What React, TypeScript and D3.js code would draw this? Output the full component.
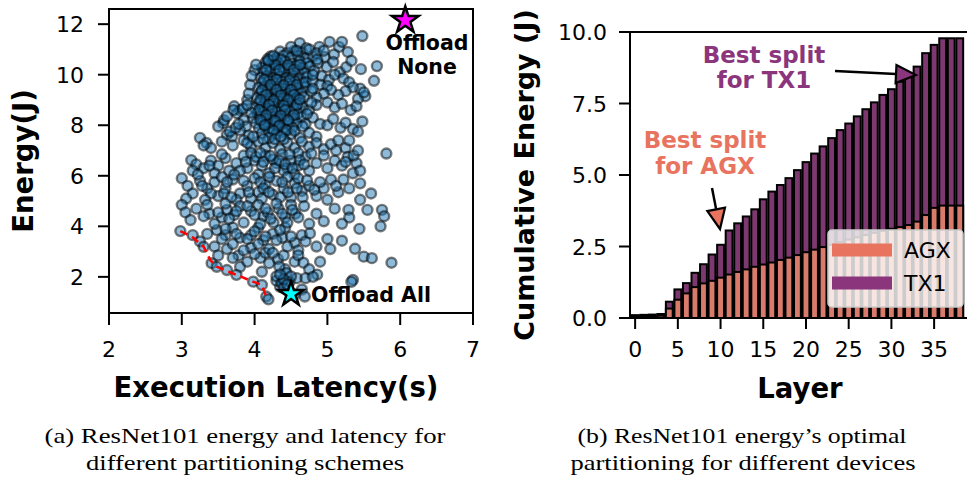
import * as d3 from "d3";

const W = 967;
const H = 479;

// ---- panel (a): latency vs energy scatter ----
const latencyTicks = [2, 3, 4, 5, 6, 7];
const energyTicks = [2, 4, 6, 8, 10, 12];

// dense core of partitions
const scatterCore: [number, number][] = [
  [4.35, 10.92], [4.45, 10.86], [4.55, 10.95], [4.65, 10.88],
  [4.22, 10.72], [4.3, 10.66], [4.4, 10.75], [4.5, 10.68], [4.6, 10.74], [4.7, 10.65], [4.8, 10.72],
  [4.15, 10.48], [4.25, 10.55], [4.33, 10.45], [4.42, 10.52], [4.52, 10.44], [4.62, 10.53], [4.72, 10.46],
  [4.1, 10.28], [4.2, 10.34], [4.28, 10.25], [4.38, 10.32], [4.47, 10.26], [4.57, 10.35], [4.66, 10.27], [4.76, 10.33],
  [4.12, 10.08], [4.22, 10.12], [4.31, 10.04], [4.4, 10.1], [4.5, 10.05], [4.6, 10.13], [4.69, 10.06],
  [4.08, 9.88], [4.17, 9.93], [4.26, 9.86], [4.35, 9.92], [4.44, 9.87], [4.53, 9.94], [4.62, 9.85], [4.72, 9.9],
  [4.1, 9.68], [4.2, 9.74], [4.29, 9.66], [4.38, 9.72], [4.47, 9.65], [4.56, 9.73], [4.66, 9.67],
  [4.05, 9.48], [4.14, 9.53], [4.23, 9.46], [4.32, 9.52], [4.41, 9.45], [4.5, 9.54], [4.6, 9.47], [4.7, 9.51],
  [4.08, 9.28], [4.18, 9.33], [4.27, 9.26], [4.36, 9.32], [4.45, 9.25], [4.55, 9.34], [4.64, 9.27],
  [4.03, 9.08], [4.12, 9.13], [4.22, 9.06], [4.31, 9.12], [4.4, 9.05], [4.49, 9.14], [4.58, 9.07], [4.68, 9.11],
  [4.06, 8.88], [4.15, 8.93], [4.25, 8.86], [4.34, 8.92], [4.43, 8.85], [4.52, 8.94], [4.62, 8.87],
  [4.0, 8.68], [4.1, 8.73], [4.19, 8.66], [4.28, 8.72], [4.37, 8.65], [4.46, 8.74], [4.56, 8.67], [4.66, 8.71],
  [4.04, 8.48], [4.13, 8.53], [4.22, 8.46], [4.32, 8.52], [4.41, 8.45], [4.5, 8.54], [4.6, 8.47],
  [3.98, 8.28], [4.08, 8.33], [4.17, 8.26], [4.26, 8.32], [4.35, 8.25], [4.44, 8.34], [4.54, 8.27], [4.64, 8.31],
  [4.02, 8.08], [4.11, 8.13], [4.2, 8.06], [4.3, 8.12], [4.39, 8.05], [4.48, 8.14], [4.58, 8.07],
  [4.06, 7.88], [4.15, 7.93], [4.24, 7.86], [4.33, 7.92], [4.42, 7.85], [4.52, 7.9],
  [4.1, 7.68], [4.2, 7.73], [4.3, 7.66], [4.4, 7.72], [4.5, 7.65],
];

// second layer over the darkest part of the core
const scatterCoreDense: [number, number][] = [
  [4.18, 10.62], [4.36, 10.6], [4.46, 10.38], [4.28, 10.4], [4.16, 10.2], [4.34, 10.18], [4.54, 10.2],
  [4.13, 9.8], [4.3, 9.8], [4.48, 9.78], [4.22, 9.6], [4.4, 9.58], [4.58, 9.6], [4.1, 9.38], [4.3, 9.4],
  [4.5, 9.4], [4.16, 9.2], [4.36, 9.18], [4.54, 9.2], [4.08, 9.0], [4.26, 8.98], [4.46, 9.0],
  [4.2, 8.8], [4.4, 8.78], [4.58, 8.8], [4.06, 8.6], [4.24, 8.58], [4.42, 8.6], [4.16, 8.4], [4.36, 8.38],
  [4.54, 8.4], [4.08, 8.2], [4.28, 8.18], [4.46, 8.2], [4.14, 8.0], [4.34, 7.98], [4.26, 7.78],
  [4.44, 7.8], [4.62, 9.02], [4.62, 10.4], [4.7, 9.7],
];

const scatterUpper: [number, number][] = [
  [4.62, 11.25], [4.71, 11.05], [4.89, 11.1], [5.03, 11.3], [5.16, 11.1], [5.28, 10.9], [5.09, 10.8],
  [4.96, 10.7], [5.48, 11.53], [4.19, 10.56], [4.26, 10.75], [4.0, 10.18], [5.46, 10.22], [5.68, 10.34],
  [4.87, 10.45], [4.99, 10.3], [5.08, 10.5], [5.17, 10.1], [5.26, 10.3], [5.33, 10.55], [4.82, 10.15],
  [4.92, 9.95], [5.02, 9.8], [5.1, 10.0], [5.22, 9.85], [5.3, 9.7], [5.64, 9.76], [4.8, 9.75],
  [4.9, 9.6], [5.0, 9.55], [3.94, 9.6], [4.75, 11.0], [4.85, 10.85], [5.2, 11.3], [4.5, 11.1],
];

const scatterMid: [number, number][] = [
  [5.45, 9.45], [5.52, 9.15], [5.42, 9.05], [5.35, 9.5], [5.25, 9.35], [5.15, 9.2], [5.05, 9.4],
  [4.95, 9.25], [4.85, 9.1], [4.78, 9.35], [4.75, 8.6], [4.85, 8.8], [5.0, 8.9], [5.1, 8.7], [5.2, 8.85],
  [5.32, 8.6], [5.4, 8.75], [3.9, 9.0], [3.8, 8.6], [3.95, 8.5], [3.72, 8.75], [3.76, 8.47], [3.71, 8.6],
  [3.57, 8.08], [3.5, 7.95], [3.62, 7.62], [3.69, 7.55], [3.25, 7.5], [3.34, 7.3], [3.85, 8.2],
  [3.88, 7.95], [3.92, 7.6], [3.8, 7.8], [4.7, 8.05], [4.8, 8.3], [4.9, 8.05], [4.75, 7.7], [4.85, 7.55],
  [4.62, 7.5], [5.0, 8.0], [5.08, 8.25], [5.18, 7.9], [5.25, 8.1], [5.35, 7.85], [5.48, 8.15],
  [5.42, 7.75], [5.5, 9.3],
  [3.4, 7.1], [3.55, 7.35], [3.7, 7.2], [3.85, 7.4], [3.95, 7.15], [4.05, 7.35], [4.15, 7.1], [4.25, 7.3],
  [4.35, 7.05], [4.45, 7.3], [4.55, 7.1], [4.65, 7.35], [4.75, 7.15], [4.85, 7.3], [4.95, 7.05],
  [5.05, 7.25], [5.15, 7.4], [5.25, 7.1], [5.3, 7.4], [4.2, 7.5], [4.4, 7.45], [3.3, 7.2],
  [3.13, 6.62], [3.2, 6.45], [3.15, 6.2], [3.3, 6.3], [3.4, 6.6], [3.5, 6.4], [3.45, 6.1], [3.6, 6.7],
  [3.65, 6.2], [3.75, 6.5], [3.85, 6.8], [3.9, 6.3], [4.0, 6.6], [4.1, 6.4], [4.15, 6.8], [4.2, 6.1],
  [4.3, 6.5], [4.38, 6.85], [4.45, 6.3], [4.5, 6.6], [4.6, 6.4], [4.7, 6.75], [4.75, 6.2], [4.85, 6.5],
  [4.95, 6.8], [5.0, 6.3], [5.1, 6.6], [5.2, 6.4], [5.28, 6.75], [5.4, 6.5], [5.81, 6.88], [5.35, 6.1],
  [4.55, 6.05], [4.05, 6.05], [3.55, 6.85], [4.25, 6.65], [4.4, 6.2], [3.95, 6.9], [4.6, 6.9],
  [5.12, 7.0], [5.45, 6.2],
  [3.0, 5.9], [3.08, 5.6], [3.15, 5.3], [3.25, 5.8], [3.35, 5.5], [3.45, 5.75], [3.5, 5.2], [3.6, 5.5],
  [3.7, 5.85], [3.8, 5.3], [3.9, 5.6], [4.0, 5.9], [4.05, 5.35], [4.15, 5.65], [4.25, 5.25], [4.3, 5.8],
  [4.4, 5.5], [4.5, 5.15], [4.55, 5.7], [4.65, 5.4], [4.75, 5.6], [4.85, 5.2], [4.95, 5.5], [5.05, 5.85],
  [5.15, 5.35], [5.3, 5.5], [5.45, 5.7], [5.6, 5.3], [5.45, 5.05], [4.45, 5.95], [3.95, 5.1], [5.0, 5.05],
  [4.2, 5.95], [4.35, 5.15], [3.75, 5.05], [4.6, 5.9], [4.1, 5.1], [3.55, 5.95],
];

// darker clumps seen in the middle band and along the left edge
const scatterClumps: [number, number][] = [
  [3.58, 8.2], [3.62, 8.35], [3.66, 7.75], [3.74, 7.9], [3.78, 8.05], [3.84, 8.65], [3.9, 8.8],
  [3.92, 9.25], [3.96, 9.95], [4.02, 10.4], [3.9, 7.3], [3.98, 7.55], [4.12, 7.45], [4.28, 7.45],
  [4.36, 7.55], [4.55, 7.78], [4.66, 7.95], [4.72, 8.45], [4.78, 8.9], [4.8, 9.45], [4.8, 10.0],
  [4.86, 10.6], [4.95, 10.95], [4.58, 10.95],
  [4.02, 6.75], [4.08, 6.9], [4.12, 6.55], [4.22, 6.78], [4.28, 6.3], [4.34, 6.6], [4.42, 6.45],
  [4.48, 6.85], [4.52, 6.3], [4.62, 6.62], [4.68, 6.45], [4.78, 6.88], [3.88, 6.55], [3.8, 6.2],
  [3.72, 6.05], [3.62, 5.75], [3.58, 5.3], [3.68, 5.15], [3.85, 5.8], [3.92, 5.35], [4.08, 5.75],
  [4.12, 5.5], [4.2, 5.35], [4.38, 5.75], [4.46, 5.35], [4.58, 5.5], [4.66, 5.15], [4.72, 5.82],
  [4.82, 5.45], [4.9, 5.75], [5.12, 5.6], [5.22, 5.85], [5.25, 6.55], [5.36, 6.8], [5.42, 7.0],
  [3.38, 6.4], [3.22, 6.05], [3.28, 5.6], [3.4, 5.3], [3.32, 5.05],
  [3.38, 4.5], [3.55, 4.35], [3.62, 4.65], [3.72, 4.45], [3.8, 4.8], [3.95, 4.6], [4.05, 4.85],
  [4.12, 4.4], [4.18, 4.55], [4.26, 4.15], [4.33, 4.7], [4.42, 4.35], [4.5, 4.85], [4.56, 4.5],
  [3.48, 3.85], [3.6, 3.65], [3.7, 3.95], [3.8, 3.55], [3.95, 3.65], [4.05, 3.95], [4.12, 3.45],
  [4.25, 3.7], [4.38, 3.55], [4.42, 3.95], [4.55, 3.35], [4.65, 3.65], [3.62, 3.1], [3.78, 2.85],
  [3.95, 3.15], [4.08, 2.75], [4.15, 2.95], [4.32, 2.7], [4.4, 2.85], [4.35, 1.6], [4.3, 1.85],
  [4.42, 2.3], [4.48, 1.8], [4.58, 1.95],
];

const scatterLow: [number, number][] = [
  [3.06, 5.1], [3.0, 4.85], [3.05, 4.55], [3.12, 4.25], [3.2, 4.7], [3.3, 4.4], [3.35, 4.85], [3.45, 4.1],
  [3.5, 4.55], [3.6, 4.9], [3.65, 4.3], [3.75, 4.6], [3.85, 4.15], [3.9, 4.8], [4.0, 4.45], [4.08, 4.1],
  [4.15, 4.7], [4.22, 4.3], [4.3, 4.9], [4.38, 4.5], [4.45, 4.15], [4.52, 4.65], [4.6, 4.35], [4.68, 4.8],
  [4.75, 4.1], [4.85, 4.5], [4.95, 4.2], [5.29, 4.65], [5.3, 4.35], [5.55, 4.65], [5.75, 4.65],
  [5.78, 4.4], [5.73, 4.0], [5.1, 4.7], [5.2, 4.1], [5.44, 3.9],
  [2.98, 3.81], [3.15, 3.65], [3.25, 3.4], [3.35, 3.7], [3.45, 3.2], [3.55, 3.5], [3.6, 3.9], [3.7, 3.3],
  [3.75, 3.7], [3.85, 3.05], [3.9, 3.5], [4.0, 3.8], [4.05, 3.3], [4.15, 3.6], [4.2, 3.1], [4.3, 3.45],
  [4.35, 3.85], [4.45, 3.2], [4.5, 3.6], [4.6, 3.05], [4.7, 3.4], [4.76, 3.72], [4.85, 3.2], [5.0, 3.5],
  [5.04, 3.1], [5.2, 3.43], [5.38, 3.11], [3.3, 3.19],
  [3.41, 2.54], [3.5, 2.85], [3.62, 2.27], [3.7, 2.75], [3.8, 2.4], [3.9, 2.6], [4.0, 2.9], [4.1, 2.2],
  [4.2, 2.54], [4.25, 2.95], [4.34, 2.41], [4.44, 2.15], [4.3, 2.02], [4.5, 2.02], [4.55, 2.6],
  [4.6, 2.85], [4.67, 2.56], [4.75, 2.3], [4.86, 2.09], [4.7, 1.95], [4.9, 2.6], [5.5, 2.8], [5.61, 2.74],
  [5.88, 2.56], [3.48, 2.4], [3.75, 2.08], [3.98, 1.81], [4.1, 1.68], [4.16, 1.22], [4.19, 1.11],
  [4.37, 1.76], [4.4, 1.55], [4.55, 1.3], [4.65, 1.5], [4.69, 1.22], [5.35, 1.88], [5.33, 1.8],
  [4.8, 2.0], [4.4, 1.9], [4.35, 2.1], [4.45, 1.7],
];

const paretoFront: [number, number][] = [
  [2.98, 3.81], [3.14, 3.59], [3.3, 3.19], [3.39, 2.67], [3.48, 2.4], [3.75, 2.08], [3.98, 1.81],
  [4.1, 1.68], [4.16, 1.22],
];
const offloadNone: [number, number] = [6.07, 12.15];
const offloadAll: [number, number] = [4.5, 1.32];

// ---- panel (b): cumulative energy per layer ----
const tx1Cumulative = [
  0.1, 0.11, 0.12, 0.14, 0.57, 1.0, 1.22, 1.58, 1.88, 2.22, 2.56, 3.06, 3.31, 3.55, 3.8, 4.15, 4.42, 4.65,
  4.89, 5.17, 5.45, 5.75, 6.0, 6.29, 6.57, 6.8, 7.05, 7.3, 7.54, 7.8, 8.0, 8.26, 8.5, 8.79, 9.26, 9.55,
  9.78, 9.78, 9.78,
];
const agxCumulative = [
  0.05, 0.06, 0.07, 0.08, 0.33, 0.64, 0.86, 1.08, 1.21, 1.3, 1.41, 1.52, 1.61, 1.7, 1.79, 1.87, 1.94, 2.03,
  2.11, 2.2, 2.3, 2.39, 2.48, 2.56, 2.65, 2.74, 2.82, 2.9, 2.98, 3.05, 3.12, 3.18, 3.25, 3.37, 3.6, 3.85,
  3.93, 3.93, 3.93,
];
const layerTicks = [0, 5, 10, 15, 20, 25, 30, 35];
const cumTicks = [0, 2.5, 5, 7.5, 10];

const AGX = "#d97b6b";
const TX1 = "#7d386f";
const AGX_TEXT = "#e8735f";
const TX1_TEXT = "#8b357d";
const FONT = "DejaVu Sans";

function Arrow({ from, to, fill }: { from: [number, number]; to: [number, number]; fill: string }) {
  const dx = to[0] - from[0];
  const dy = to[1] - from[1];
  const len = Math.hypot(dx, dy);
  const ux = dx / len;
  const uy = dy / len;
  const hl = 20;
  const hw = 9;
  const bx = to[0] - ux * hl;
  const by = to[1] - uy * hl;
  const pts = [
    [to[0], to[1]],
    [bx - uy * hw, by + ux * hw],
    [bx + uy * hw, by - ux * hw],
  ];
  return (
    <g>
      <line x1={from[0]} y1={from[1]} x2={bx} y2={by} stroke="black" strokeWidth={2.5} />
      <polygon points={pts.map((p) => p.join(",")).join(" ")} fill={fill} stroke="black" strokeWidth={2.2} strokeLinejoin="miter" />
    </g>
  );
}

function ScatterPanel() {
  const x = d3.scaleLinear().domain([2, 7]).range([109, 473]);
  const y = d3.scaleLinear().domain([0.57, 12.6]).range([313, 9]);
  const all = [...scatterCore, ...scatterCoreDense, ...scatterUpper, ...scatterMid, ...scatterClumps, ...scatterLow];
  const line = d3.line<[number, number]>().x((d) => x(d[0])).y((d) => y(d[1]));
  const star = (r: number) => d3.symbol().type(d3.symbolStar).size((r * r) / 0.8908130915292852)() as string;
  return (
    <g fontFamily={FONT}>
      {all.map((d, i) => (
        <circle key={i} cx={x(d[0])} cy={y(d[1])} r={5} fill="#1f77b4" fillOpacity={0.5} stroke="black" strokeOpacity={0.5} strokeWidth={2.4} />
      ))}
      <path d={line(paretoFront) ?? ""} fill="none" stroke="red" strokeWidth={2.5} strokeDasharray="8,5" />
      <path d={star(14)} transform={`translate(${x(offloadNone[0])},${y(offloadNone[1])})`} fill="#ff00ff" stroke="black" strokeWidth={2.5} />
      <path d={star(13)} transform={`translate(${x(offloadAll[0])},${y(offloadAll[1])})`} fill="#00ffff" stroke="black" strokeWidth={2.5} />
      <text x={427} y={50} textAnchor="middle" fontSize={20.5} fontWeight="bold">Offload</text>
      <text x={427} y={74} textAnchor="middle" fontSize={20.5} fontWeight="bold">None</text>
      <text x={311} y={302} fontSize={20.5} fontWeight="bold">Offload All</text>
      <rect x={109} y={9} width={364} height={304} fill="none" stroke="black" strokeWidth={2} />
      {latencyTicks.map((t) => (
        <g key={t}>
          <line x1={x(t)} x2={x(t)} y1={313} y2={325} stroke="black" strokeWidth={2} />
          <text x={x(t)} y={357} textAnchor="middle" fontSize={22}>{t}</text>
        </g>
      ))}
      {energyTicks.map((t) => (
        <g key={t}>
          <line x1={98} x2={109} y1={y(t)} y2={y(t)} stroke="black" strokeWidth={2} />
          <text x={84} y={y(t) + 8} textAnchor="end" fontSize={22}>{t}</text>
        </g>
      ))}
      <text x={276} y={397} textAnchor="middle" fontSize={27.5} fontWeight="bold">Execution Latency(s)</text>
      <text transform="translate(33,161) rotate(-90)" textAnchor="middle" fontSize={27.5} fontWeight="bold">Energy(J)</text>
    </g>
  );
}

function BarPanel() {
  const x = d3.scaleLinear().domain([-0.6, 39.2]).range([630, 970]);
  const y = d3.scaleLinear().domain([0, 10]).range([318, 32]);
  const bw = 0.8 * (x(1) - x(0));
  return (
    <g fontFamily={FONT}>
      {tx1Cumulative.map((v, i) => (
        <rect key={`t${i}`} x={x(i) - bw / 2} y={y(v)} width={bw} height={y(0) - y(v)} fill={TX1} stroke="black" strokeWidth={2} />
      ))}
      {agxCumulative.map((v, i) => (
        <rect key={`a${i}`} x={x(i) - bw / 2} y={y(v)} width={bw} height={y(0) - y(v)} fill={AGX} stroke="black" strokeWidth={2} />
      ))}
      <line x1={630} x2={970} y1={32} y2={32} stroke="black" strokeWidth={2} />
      <line x1={630} x2={970} y1={318} y2={318} stroke="black" strokeWidth={2} />
      <line x1={630} x2={630} y1={32} y2={318} stroke="black" strokeWidth={2} />
      {layerTicks.map((t) => (
        <g key={t}>
          <line x1={x(t)} x2={x(t)} y1={318} y2={329} stroke="black" strokeWidth={2} />
          <text x={x(t)} y={357} textAnchor="middle" fontSize={22}>{t}</text>
        </g>
      ))}
      {cumTicks.map((t) => (
        <g key={t}>
          <line x1={619} x2={630} y1={y(t)} y2={y(t)} stroke="black" strokeWidth={2} />
          <text x={607} y={y(t) + 8} textAnchor="end" fontSize={22}>{t.toFixed(1)}</text>
        </g>
      ))}
      <text x={800} y={398} textAnchor="middle" fontSize={27.5} fontWeight="bold">Layer</text>
      <text transform="translate(534,175) rotate(-90)" textAnchor="middle" fontSize={27} fontWeight="bold">Cumulative Energy (J)</text>

      <text x={764} y={63} textAnchor="middle" fontSize={23} fontWeight="bold" fill={TX1_TEXT}>Best split</text>
      <text x={764} y={88} textAnchor="middle" fontSize={23} fontWeight="bold" fill={TX1_TEXT}>for TX1</text>
      <Arrow from={[835, 71]} to={[916, 75]} fill={TX1_TEXT} />
      <text x={705} y={148} textAnchor="middle" fontSize={23} fontWeight="bold" fill={AGX_TEXT}>Best split</text>
      <text x={705} y={174} textAnchor="middle" fontSize={23} fontWeight="bold" fill={AGX_TEXT}>for AGX</text>
      <Arrow from={[712, 188]} to={[720, 229]} fill={AGX_TEXT} />

      <g>
        <rect x={828} y={230} width={135} height={77} rx={4} fill="white" fillOpacity={0.8} stroke="#cccccc" strokeWidth={1.5} />
        <line x1={832} x2={892} y1={250} y2={250} stroke={AGX_TEXT} strokeWidth={13} />
        <line x1={832} x2={892} y1={283} y2={283} stroke={TX1_TEXT} strokeWidth={13} />
        <text x={904} y={258} fontSize={22}>AGX</text>
        <text x={904} y={291} fontSize={22}>TX1</text>
      </g>
    </g>
  );
}

export default function App() {
  return (
    <div style={{ position: "absolute", left: 0, top: 0, background: "white" }}>
      <svg width={W} height={H} style={{ display: "block" }}>
        <rect width={W} height={H} fill="white" />
        <ScatterPanel />
        <BarPanel />
        <g fontFamily="Liberation Serif" fontSize={21}>
          <text x={245} y={443} textAnchor="middle" textLength={401} lengthAdjust="spacingAndGlyphs">(a) ResNet101 energy and latency for</text>
          <text x={245} y={470} textAnchor="middle" textLength={318} lengthAdjust="spacingAndGlyphs">different partitioning schemes</text>
          <text x={742} y={443} textAnchor="middle" textLength={329} lengthAdjust="spacingAndGlyphs">(b) ResNet101 energy’s optimal</text>
          <text x={743} y={470} textAnchor="middle" textLength={345} lengthAdjust="spacingAndGlyphs">partitioning for different devices</text>
        </g>
      </svg>
    </div>
  );
}
